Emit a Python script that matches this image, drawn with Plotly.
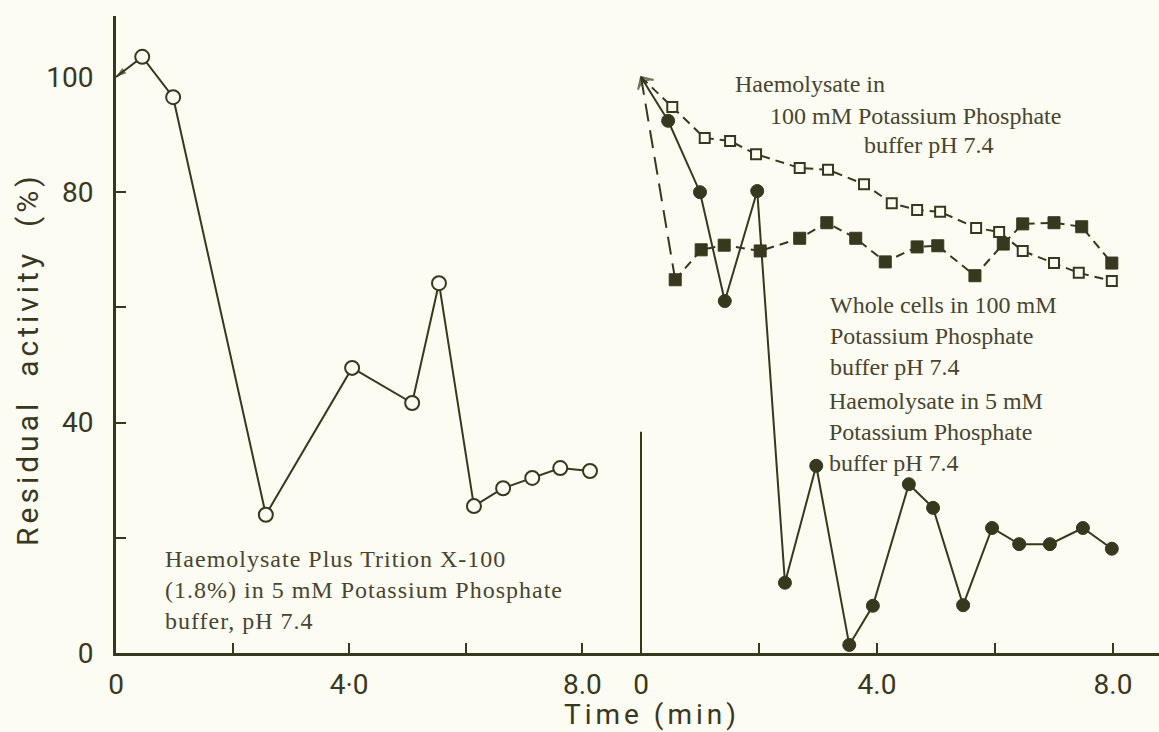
import plotly.graph_objects as go

# ---------------- data ----------------
start_time = [0.0]
start_activity = [100.0]

# Left panel: Haemolysate + Triton X-100 (1.8%) in 5 mM K-phosphate
left_time = [0.45, 0.98, 2.57, 4.05, 5.08, 5.54, 6.14, 6.64, 7.14, 7.62, 8.13]
left_activity = [103.5, 96.5, 24.0, 49.5, 43.4, 64.2, 25.5, 28.6, 30.4, 32.1, 31.6]

# Right panel: Haemolysate in 100 mM K-phosphate (open squares)
hem100_time = [0.53, 1.08, 1.51, 1.95, 2.69, 3.17, 3.78, 4.25, 4.68, 5.07,
               5.68, 6.07, 6.47, 7.00, 7.42, 7.98]
hem100_activity = [94.8, 89.4, 88.9, 86.6, 84.2, 83.9, 81.4, 78.1, 76.9, 76.6,
                   73.8, 73.1, 69.8, 67.7, 66.0, 64.6]

# Right panel: Whole cells in 100 mM K-phosphate (filled squares)
cells_time = [0.58, 1.02, 1.41, 2.02, 2.69, 3.15, 3.64, 4.14, 4.68, 5.03,
              5.66, 6.14, 6.47, 7.00, 7.47, 7.98]
cells_activity = [64.8, 70.0, 70.8, 69.8, 72.0, 74.7, 72.0, 67.9, 70.5, 70.7,
                  65.5, 71.0, 74.5, 74.7, 74.0, 67.7]

# Right panel: Haemolysate in 5 mM K-phosphate (filled circles)
hem5_time = [0.46, 1.00, 1.42, 1.97, 2.44, 2.97, 3.53, 3.93, 4.54, 4.95,
             5.46, 5.95, 6.41, 6.93, 7.49, 7.98]
hem5_activity = [92.4, 80.0, 61.1, 80.2, 12.2, 32.5, 1.4, 8.2, 29.3, 25.2,
                 8.3, 21.7, 18.9, 18.9, 21.7, 18.1]

y_tick_vals = [0, 40, 80, 100]
y_tick_text = ["0", "40", "80", "100"]
y_minor_vals = [20, 40, 60, 80]
x_tick_vals = [0, 2, 4, 6, 8]
left_tick_text = ["0", "", "4·0", "", "8.0"]
right_tick_text = ["0", "", "4.0", "", "8.0"]
separator_top = [38.4]

# ---------------- style ----------------
INK = "#38381f"
TXT = "#48452f"
BG = "#fcfcf3"
W, H = 1159, 732
L, R, T, B = 116, 0, 16, 79
PW, PH = W - L - R, H - T - B

def pxx(px):
    return (px - L) / PW

def pxy(py):
    return (H - B - py) / PH

fig = go.Figure()

# ----- left panel -----
fig.add_trace(go.Scatter(x=start_time + left_time, y=start_activity + left_activity,
                         mode="lines", line=dict(color=INK, width=2),
                         xaxis="x", yaxis="y", hoverinfo="skip", showlegend=False))
fig.add_trace(go.Scatter(x=[left_time[0], start_time[0]], y=[left_activity[0], start_activity[0]],
                         mode="markers",
                         marker=dict(symbol=["circle", "arrow"], size=[0, 11], color=INK,
                                     angleref="previous", line=dict(width=0)),
                         xaxis="x", yaxis="y", showlegend=False, cliponaxis=False))
fig.add_trace(go.Scatter(x=left_time, y=left_activity, mode="markers",
                         marker=dict(symbol="circle", size=14, color=BG,
                                     line=dict(color=INK, width=2)),
                         xaxis="x", yaxis="y", showlegend=False, cliponaxis=False))

# ----- right panel -----
# origin segments
fig.add_trace(go.Scatter(x=start_time + hem100_time[:1], y=start_activity + hem100_activity[:1],
                         mode="lines", line=dict(color=INK, width=2, dash="9px,6px"),
                         xaxis="x2", yaxis="y", showlegend=False))
fig.add_trace(go.Scatter(x=start_time + cells_time[:1], y=start_activity + cells_activity[:1],
                         mode="lines", line=dict(color=INK, width=2, dash="18px,9px"),
                         xaxis="x2", yaxis="y", showlegend=False))
fig.add_trace(go.Scatter(x=start_time + hem5_time[:1], y=start_activity + hem5_activity[:1],
                         mode="lines", line=dict(color=INK, width=2),
                         xaxis="x2", yaxis="y", showlegend=False))
# main lines
fig.add_trace(go.Scatter(x=hem100_time, y=hem100_activity, mode="lines",
                         line=dict(color=INK, width=2, dash="9px,6px"),
                         xaxis="x2", yaxis="y", showlegend=False))
fig.add_trace(go.Scatter(x=cells_time, y=cells_activity, mode="lines",
                         line=dict(color=INK, width=2, dash="9px,6px"),
                         xaxis="x2", yaxis="y", showlegend=False))
fig.add_trace(go.Scatter(x=hem5_time, y=hem5_activity, mode="lines",
                         line=dict(color=INK, width=2),
                         xaxis="x2", yaxis="y", showlegend=False))
# markers
fig.add_trace(go.Scatter(x=hem100_time, y=hem100_activity, mode="markers",
                         marker=dict(symbol="square", size=10, color=BG,
                                     line=dict(color=INK, width=2)),
                         xaxis="x2", yaxis="y", showlegend=False, cliponaxis=False))
fig.add_trace(go.Scatter(x=cells_time, y=cells_activity, mode="markers",
                         marker=dict(symbol="square", size=12, color=INK,
                                     line=dict(color=INK, width=1)),
                         xaxis="x2", yaxis="y", showlegend=False, cliponaxis=False))
fig.add_trace(go.Scatter(x=hem5_time, y=hem5_activity, mode="markers",
                         marker=dict(symbol="circle", size=13, color=INK,
                                     line=dict(color=INK, width=1)),
                         xaxis="x2", yaxis="y", showlegend=False, cliponaxis=False))
# arrow head at the common origin
fig.add_trace(go.Scatter(x=[hem5_time[0], start_time[0]], y=[hem5_activity[0], start_activity[0]],
                         mode="markers",
                         marker=dict(symbol=["circle", "arrow-wide-open"], size=[0, 13], color=INK,
                                     angleref="previous", line=dict(color=INK, width=2)),
                         xaxis="x2", yaxis="y", showlegend=False, cliponaxis=False))

# separator line between the two panels
fig.add_shape(type="line", xref="x2", yref="y", x0=start_time[0], x1=start_time[0],
              y0=0, y1=separator_top[0], line=dict(color=INK, width=2))

split = (639 - L) / PW
tickfont = dict(family="Roboto", size=28, color=INK)
common_x = dict(showgrid=False, zeroline=False, showline=True, linecolor=INK, linewidth=3,
                ticks="inside", ticklen=10, tickwidth=2, tickcolor=INK,
                tickmode="array", tickvals=x_tick_vals, tickfont=tickfont,
                ticklabelstandoff=4, anchor="y", fixedrange=True)

fig.update_layout(
    width=W, height=H,
    margin=dict(l=L, r=R, t=T, b=B),
    paper_bgcolor=BG, plot_bgcolor=BG,
    showlegend=False,
    xaxis=dict(domain=[0, split], range=[0, (639 - L) / 58.3],
               ticktext=left_tick_text, **common_x),
    xaxis2=dict(domain=[split, 1], range=[-2 / 59, (W - 641) / 59],
                ticktext=right_tick_text, **common_x),
    yaxis=dict(range=[0, PH / 5.76], showgrid=False, zeroline=False, showline=True,
               linecolor=INK, linewidth=3, ticks="", tickmode="array",
               tickvals=y_tick_vals, ticktext=y_tick_text, tickfont=tickfont,
               ticklabelstandoff=14,
               minor=dict(tickmode="array", tickvals=y_minor_vals, ticks="inside",
                          ticklen=10, tickwidth=2, tickcolor=INK),
               fixedrange=True),
)

serif = dict(family="Liberation Serif", size=24, color=TXT)

def note(text, px, py, xanchor="left", yanchor="middle", align="left"):
    fig.add_annotation(text=text, x=pxx(px), y=pxy(py), xref="paper", yref="paper",
                       xanchor=xanchor, yanchor=yanchor, align=align,
                       showarrow=False, font=serif)

note("<span style='letter-spacing:1px'>Haemolysate Plus Trition X-100<br>"
     "(1.8%) in 5 mM Potassium Phosphate<br>buffer, pH 7.4</span>", 163, 544, yanchor="top")
note("Haemolysate in", 733, 84)
note("100 mM Potassium Phosphate", 768, 116)
note("buffer pH 7.4", 862, 145)
note("Whole cells in 100 mM<br>Potassium Phosphate<br>buffer pH 7.4", 828, 290, yanchor="top")
note("Haemolysate in 5 mM<br>Potassium Phosphate<br>buffer pH 7.4", 827, 386, yanchor="top")

fig.add_annotation(text="<span style='letter-spacing:4px'>Time (min)</span>",
                   x=pxx(652), y=pxy(714), xref="paper", yref="paper",
                   xanchor="center", yanchor="middle", showarrow=False,
                   font=dict(family="Roboto", size=28, color=INK))
fig.add_annotation(text="<span style='letter-spacing:4px'>Residual  activity  (%)</span>",
                   x=pxx(27), y=pxy(359), xref="paper", yref="paper",
                   xanchor="center", yanchor="middle", textangle=-90, showarrow=False,
                   font=dict(family="Roboto", size=30, color=INK))

page_fix = ("document.body.style.margin='0';document.body.style.padding='0';"
            "document.body.style.background='" + BG + "';"
            "document.documentElement.style.overflow='hidden';")
fig.write_html("out.html", post_script=page_fix, config={"displayModeBar": False})
